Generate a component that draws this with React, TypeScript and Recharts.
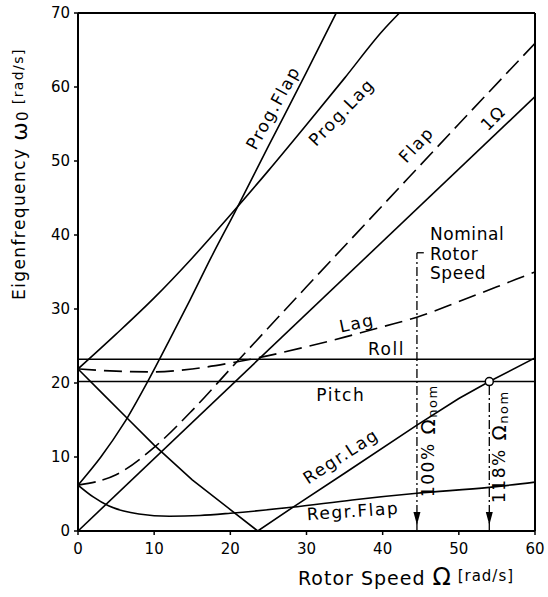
import { Line, LineChart, ReferenceDot, ReferenceLine, XAxis, YAxis } from "recharts";

const FONT = "DejaVu Sans";

const xTicks = [0, 10, 20, 30, 40, 50, 60];
const yTicks = [0, 10, 20, 30, 40, 50, 60, 70];

// rotor speed Ω [rad/s] -> eigenfrequency ω0 [rad/s]
const oneOmega = [
  { x: 0, y: 0 },
  { x: 60, y: 58.7 },
];
const flap = [
  { x: 0, y: 6.2 },
  { x: 5, y: 7.6 },
  { x: 10, y: 11.3 },
  { x: 15, y: 16.3 },
  { x: 20, y: 21.9 },
  { x: 30, y: 33 },
  { x: 40, y: 44 },
  { x: 50, y: 55 },
  { x: 60, y: 65.9 },
];
const lag = [
  { x: 0, y: 21.9 },
  { x: 5, y: 21.6 },
  { x: 10, y: 21.5 },
  { x: 15, y: 21.9 },
  { x: 20, y: 22.7 },
  { x: 25, y: 23.7 },
  { x: 30, y: 24.9 },
  { x: 35, y: 26.2 },
  { x: 40, y: 27.6 },
  { x: 44.5, y: 28.9 },
  { x: 50, y: 31 },
  { x: 55, y: 33 },
  { x: 60, y: 35 },
];
const progLag = [
  { x: 0, y: 21.9 },
  { x: 5, y: 26.6 },
  { x: 10, y: 31.5 },
  { x: 15, y: 36.9 },
  { x: 20, y: 42.7 },
  { x: 25, y: 48.7 },
  { x: 30, y: 54.9 },
  { x: 35, y: 61.2 },
  { x: 40, y: 67.6 },
  { x: 42.2, y: 70 },
];
const progFlap = [
  { x: 0, y: 6.2 },
  { x: 3, y: 10 },
  { x: 6, y: 14.5 },
  { x: 9.2, y: 20.3 },
  { x: 12, y: 25.8 },
  { x: 14.7, y: 31.2 },
  { x: 17.5, y: 37 },
  { x: 20.6, y: 43.1 },
  { x: 25, y: 52 },
  { x: 30, y: 62 },
  { x: 33.9, y: 70 },
];
const regrFlap = [
  { x: 0, y: 6.2 },
  { x: 2, y: 4.6 },
  { x: 4, y: 3.4 },
  { x: 6, y: 2.7 },
  { x: 8, y: 2.3 },
  { x: 12, y: 2 },
  { x: 16, y: 2.1 },
  { x: 20, y: 2.4 },
  { x: 28, y: 3.2 },
  { x: 36, y: 4.2 },
  { x: 44.5, y: 5.1 },
  { x: 54, y: 5.9 },
  { x: 60, y: 6.6 },
];
const regrLag = [
  { x: 0, y: 21.9 },
  { x: 3, y: 18.8 },
  { x: 6.4, y: 15.3 },
  { x: 10, y: 11.6 },
  { x: 15, y: 6.9 },
  { x: 20, y: 2.9 },
  { x: 23.6, y: 0 },
  { x: 28.2, y: 3.2 },
  { x: 35, y: 7.8 },
  { x: 44.5, y: 14.3 },
  { x: 50, y: 17.9 },
  { x: 54, y: 20.2 },
  { x: 60, y: 23.4 },
];
const roll = [
  { x: 0, y: 23.2 },
  { x: 60, y: 23.2 },
];
const pitch = [
  { x: 0, y: 20.2 },
  { x: 60, y: 20.2 },
];

const nominalSpeed = 44.5;
const nominalTop = 37.6;
const overSpeed = 54;
const overSpeedFreq = 20.2;

const textStyle = { fill: "#000", fontFamily: FONT, fontSize: 17, letterSpacing: 1.5 };

function note(key: string, x: number, y: number, angle: number, content: any, anchor = "middle", spacing = 1.5) {
  return (
    <ReferenceDot
      key={key}
      x={x}
      y={y}
      r={0}
      ifOverflow="visible"
      shape={(p: any) => (
        <text
          x={p.cx}
          y={p.cy}
          transform={`rotate(${angle} ${p.cx} ${p.cy})`}
          textAnchor={anchor}
          dominantBaseline="central"
          {...textStyle}
          letterSpacing={spacing}
        >
          {content}
        </text>
      )}
    />
  );
}

function arrowHead(key: string, x: number) {
  return (
    <ReferenceDot
      key={key}
      x={x}
      y={0.8}
      r={0}
      ifOverflow="visible"
      shape={(p: any) => (
        <path d={`M${p.cx - 3.5},${p.cy - 13} L${p.cx + 3.5},${p.cy - 13} L${p.cx},${p.cy} Z`} fill="#000" />
      )}
    />
  );
}

const line = (key: string, data: any[], type: "linear" | "monotone", dash?: string) => (
  <Line
    key={key}
    data={data}
    dataKey="y"
    type={type}
    stroke="#000"
    strokeWidth={1.6}
    strokeDasharray={dash}
    dot={false}
    activeDot={false}
    isAnimationActive={false}
  />
);

export default function App() {
  return (
    <div style={{ position: "absolute", left: 0, top: 0, width: 548, height: 597, background: "#fff" }}>
      <LineChart width={548} height={597} margin={{ top: 13, right: 13, bottom: 36, left: 38 }}>
        <XAxis
          type="number"
          dataKey="x"
          domain={[0, 60]}
          ticks={xTicks}
          allowDataOverflow
          height={30}
          tickSize={4}
          tickMargin={8}
          axisLine={{ stroke: "#000", strokeWidth: 2 }}
          tickLine={{ stroke: "#000", strokeWidth: 1.5 }}
          tick={{ fill: "#000", fontSize: 15, fontFamily: FONT }}
          label={(props: any) => {
            const vb = props.viewBox;
            return (
              <text x={vb.x + 220} y={vb.y + 54} fill="#000" fontFamily={FONT} fontSize={19} letterSpacing={1}>
                Rotor Speed{" "}
                <tspan fontSize={24}>Ω</tspan>
                <tspan fontSize={15} dy={-4}> [rad/s]</tspan>
              </text>
            );
          }}
        />
        <YAxis
          type="number"
          domain={[0, 70]}
          ticks={yTicks}
          allowDataOverflow
          width={40}
          tickSize={4}
          tickMargin={4}
          axisLine={{ stroke: "#000", strokeWidth: 2 }}
          tickLine={{ stroke: "#000", strokeWidth: 1.5 }}
          tick={{ fill: "#000", fontSize: 15, fontFamily: FONT }}
          label={(props: any) => {
            const vb = props.viewBox;
            const cx = vb.x - 19;
            const cy = vb.y + 287;
            return (
              <text
                x={cx}
                y={cy}
                transform={`rotate(-90 ${cx} ${cy})`}
                textAnchor="start"
                dominantBaseline="central"
                fill="#000"
                fontFamily={FONT}
                fontSize={17}
                letterSpacing={1.4}
              >
                Eigenfrequency{" "}
                <tspan fontSize={22}>ω</tspan>
                <tspan fontSize={15} dy={4}>0</tspan>
                <tspan fontSize={14} dy={-5}>{" "}[rad/s]</tspan>
              </text>
            );
          }}
        />
        <ReferenceLine y={70} stroke="#000" strokeWidth={2} />
        <ReferenceLine x={60} stroke="#000" strokeWidth={2} />

        {line("oneOmega", oneOmega, "linear")}
        {line("flap", flap, "monotone", "18 7")}
        {line("lag", lag, "monotone", "18 8")}
        {line("progLag", progLag, "monotone")}
        {line("progFlap", progFlap, "monotone")}
        {line("regrFlap", regrFlap, "monotone")}
        {line("regrLag", regrLag, "linear")}
        {line("roll", roll, "linear")}
        {line("pitch", pitch, "linear")}

        <ReferenceLine
          segment={[
            { x: nominalSpeed, y: 0 },
            { x: nominalSpeed, y: nominalTop },
          ]}
          stroke="#000"
          strokeWidth={1.3}
          strokeDasharray="9 3 2 3"
        />
        <ReferenceLine
          segment={[
            { x: nominalSpeed, y: nominalTop },
            { x: nominalSpeed + 0.9, y: nominalTop },
          ]}
          stroke="#000"
          strokeWidth={1.3}
        />
        <ReferenceLine
          segment={[
            { x: overSpeed, y: 0 },
            { x: overSpeed, y: overSpeedFreq },
          ]}
          stroke="#000"
          strokeWidth={1.3}
          strokeDasharray="9 3 2 3"
        />
        {arrowHead("arrowNominal", nominalSpeed)}
        {arrowHead("arrowOver", overSpeed)}
        <ReferenceDot x={overSpeed} y={overSpeedFreq} r={4} fill="#fff" stroke="#000" strokeWidth={1.5} ifOverflow="visible" />

        {note("progFlapText", 25.6, 57.2, -61, "Prog.Flap")}
        {note("progLagText", 34.6, 56.6, -46, "Prog.Lag")}
        {note("flapText", 44.4, 52.2, -47, "Flap")}
        {note("oneOmegaText", 54.5, 55.8, -45, "1Ω")}
        {note("nominalText", 46.2, 40.1, 0, "Nominal", "start", 0.6)}
        {note("rotorText", 46.2, 37.4, 0, "Rotor", "start", 0.6)}
        {note("speedText", 46.2, 34.9, 0, "Speed", "start", 0.6)}
        {note("lagText", 36.6, 28.1, -12, "Lag")}
        {note("rollText", 40.5, 24.6, 0, "Roll")}
        {note("pitchText", 34.5, 18.4, 0, "Pitch")}
        {note("regrLagText", 34.5, 10.1, -33, "Regr.Lag")}
        {note("regrFlapText", 36.1, 2.7, -4, "Regr.Flap")}
        {note(
          "pct100Text",
          45.9,
          12.2,
          -90,
          <>
            100%
            <tspan fontSize={20}> Ω</tspan>
            <tspan fontSize={13} dy={4}>nom</tspan>
          </>
        )}
        {note(
          "pct118Text",
          55.3,
          11.4,
          -90,
          <>
            118%
            <tspan fontSize={20}> Ω</tspan>
            <tspan fontSize={13} dy={4}>nom</tspan>
          </>
        )}
      </LineChart>
    </div>
  );
}
